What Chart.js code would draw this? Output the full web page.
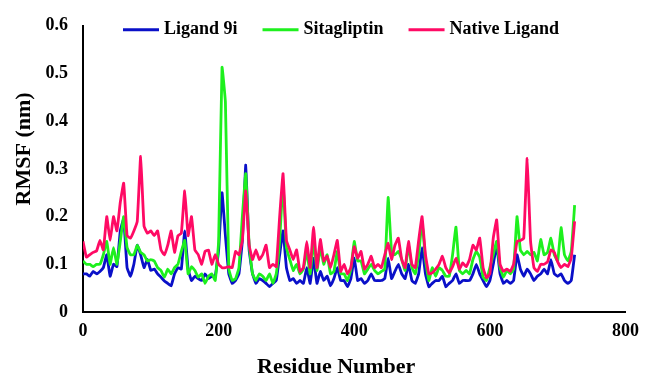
<!DOCTYPE html>
<html>
<head>
<meta charset="utf-8">
<script src="https://cdn.jsdelivr.net/npm/chart.js@4/dist/chart.umd.min.js"></script>
<style>
  html, body { margin: 0; padding: 0; background: #fff; }
  canvas { display: block; }
</style>
</head>
<body>
<canvas id="rmsf" width="648" height="380"></canvas>
<script>
// residue numbers (every 5th residue)
const residues = [
  0, 5, 10, 15, 20, 25, 30, 35, 40, 45,
  50, 55, 60, 65, 70, 75, 80, 85, 90, 95,
  100, 105, 110, 115, 120, 125, 130, 135, 140, 145,
  150, 155, 160, 165, 170, 175, 180, 185, 190, 195,
  200, 205, 210, 215, 220, 225, 230, 235, 240, 245,
  250, 255, 260, 265, 270, 275, 280, 285, 290, 295,
  300, 305, 310, 315, 320, 325, 330, 335, 340, 345,
  350, 355, 360, 365, 370, 375, 380, 385, 390, 395,
  400, 405, 410, 415, 420, 425, 430, 435, 440, 445,
  450, 455, 460, 465, 470, 475, 480, 485, 490, 495,
  500, 505, 510, 515, 520, 525, 530, 535, 540, 545,
  550, 555, 560, 565, 570, 575, 580, 585, 590, 595,
  600, 605, 610, 615, 620, 625, 630, 635, 640, 645,
  650, 655, 660, 665, 670, 675, 680, 685, 690, 695,
  700, 705, 710, 715, 720, 725
];

const ligand9i = [
  0.08, 0.08, 0.075, 0.085, 0.08, 0.085, 0.093, 0.12, 0.075, 0.1,
  0.095, 0.17, 0.195, 0.093, 0.075, 0.1, 0.14, 0.12, 0.093, 0.11,
  0.087, 0.09, 0.08, 0.073, 0.065, 0.06, 0.055, 0.08, 0.093, 0.09,
  0.17, 0.09, 0.066, 0.075, 0.07, 0.066, 0.08, 0.07, 0.075, 0.075,
  0.13, 0.25, 0.16, 0.08, 0.06, 0.066, 0.08, 0.15, 0.308, 0.13,
  0.08, 0.06, 0.07, 0.066, 0.06, 0.053, 0.06, 0.066, 0.12, 0.17,
  0.093, 0.066, 0.07, 0.06, 0.066, 0.06, 0.093, 0.06, 0.113, 0.06,
  0.085, 0.066, 0.075, 0.055, 0.07, 0.093, 0.066, 0.066, 0.053, 0.07,
  0.113, 0.066, 0.07, 0.06, 0.066, 0.08, 0.066, 0.066, 0.066, 0.07,
  0.113, 0.07, 0.085, 0.1, 0.08, 0.07, 0.1, 0.066, 0.06, 0.08,
  0.135, 0.08, 0.053, 0.06, 0.066, 0.066, 0.075, 0.053, 0.06, 0.066,
  0.08, 0.06, 0.066, 0.066, 0.066, 0.08, 0.1, 0.08, 0.066, 0.053,
  0.066, 0.1, 0.14, 0.08, 0.06, 0.066, 0.06, 0.066, 0.12, 0.09,
  0.075, 0.09, 0.08, 0.066, 0.075, 0.08, 0.09, 0.08, 0.11, 0.08,
  0.075, 0.08, 0.066, 0.06, 0.066, 0.12
];

const sitagliptin = [
  0.107, 0.1, 0.1, 0.095, 0.1, 0.1, 0.12, 0.148, 0.1, 0.135,
  0.1, 0.148, 0.2, 0.135, 0.12, 0.12, 0.14, 0.125, 0.12, 0.107,
  0.11, 0.107, 0.093, 0.087, 0.073, 0.09, 0.08, 0.093, 0.1, 0.127,
  0.15, 0.08, 0.095, 0.087, 0.073, 0.08, 0.06, 0.075, 0.08, 0.066,
  0.148, 0.513, 0.44, 0.09, 0.066, 0.07, 0.093, 0.2, 0.29, 0.14,
  0.08, 0.066, 0.08, 0.075, 0.066, 0.08, 0.06, 0.08, 0.15, 0.27,
  0.135, 0.11, 0.087, 0.1, 0.08, 0.09, 0.127, 0.08, 0.148, 0.087,
  0.135, 0.1, 0.12, 0.08, 0.085, 0.127, 0.08, 0.08, 0.066, 0.09,
  0.148, 0.107, 0.107, 0.08, 0.09, 0.1, 0.087, 0.08, 0.085, 0.09,
  0.24, 0.127, 0.12, 0.127, 0.11, 0.087, 0.14, 0.093, 0.08, 0.12,
  0.19, 0.11, 0.066, 0.093, 0.075, 0.093, 0.087, 0.075, 0.075, 0.12,
  0.178, 0.087, 0.08, 0.087, 0.08, 0.11, 0.127, 0.115, 0.073, 0.066,
  0.093, 0.12, 0.148, 0.093, 0.073, 0.087, 0.08, 0.09, 0.2, 0.13,
  0.12, 0.127, 0.12, 0.125, 0.107, 0.152, 0.12, 0.125, 0.155, 0.12,
  0.107, 0.177, 0.12, 0.107, 0.127, 0.224
];

const nativeLigand = [
  0.148, 0.115, 0.12, 0.125, 0.128, 0.15, 0.13, 0.2, 0.15, 0.2,
  0.17, 0.23, 0.27, 0.16, 0.155, 0.17, 0.19, 0.326, 0.18, 0.165,
  0.17, 0.16, 0.17, 0.13, 0.12, 0.14, 0.17, 0.125, 0.16, 0.165,
  0.254, 0.16, 0.2, 0.13, 0.12, 0.1, 0.127, 0.13, 0.1, 0.12,
  0.1, 0.093, 0.093, 0.095, 0.093, 0.127, 0.12, 0.15, 0.254, 0.14,
  0.11, 0.13, 0.11, 0.12, 0.14, 0.093, 0.1, 0.095, 0.2, 0.29,
  0.15, 0.13, 0.11, 0.13, 0.085, 0.093, 0.148, 0.093, 0.178, 0.093,
  0.152, 0.107, 0.117, 0.093, 0.12, 0.15, 0.085, 0.1, 0.08, 0.093,
  0.137, 0.113, 0.127, 0.09, 0.1, 0.117, 0.093, 0.1, 0.093, 0.12,
  0.144, 0.11, 0.14, 0.155, 0.11, 0.093, 0.148, 0.1, 0.093, 0.15,
  0.2, 0.12, 0.08, 0.082, 0.09, 0.1, 0.117, 0.093, 0.082, 0.095,
  0.113, 0.09, 0.103, 0.095, 0.11, 0.14, 0.13, 0.155, 0.093, 0.072,
  0.08, 0.155, 0.193, 0.1, 0.085, 0.09, 0.085, 0.1, 0.148, 0.15,
  0.155, 0.322, 0.148, 0.093, 0.085, 0.1, 0.1, 0.105, 0.13, 0.125,
  0.105, 0.093, 0.1, 0.095, 0.113, 0.19
];

const seriesNames = ['Ligand 9i', 'Sitagliptin', 'Native Ligand'];
const xTitle = 'Residue Number';
const yTitle = 'RMSF (nm)';

const FONT = '"Liberation Serif", "Times New Roman", serif';

const toPoints = (vals) => vals.map((v, i) => ({ x: residues[i], y: v }));

// legend + axis titles drawn by hand, the original has them off-centre
const overlay = {
  id: 'overlay',
  afterDraw(chart) {
    const { ctx, chartArea } = chart;
    ctx.save();
    ctx.fillStyle = '#000';
    ctx.textBaseline = 'middle';
    ctx.textAlign = 'left';

    ctx.font = 'bold 18px ' + FONT;
    let x = chartArea.left + 40;
    const y = chartArea.top + 4;
    chart.data.datasets.forEach(ds => {
      ctx.strokeStyle = ds.borderColor;
      ctx.lineWidth = 3;
      ctx.beginPath();
      ctx.moveTo(x, y);
      ctx.lineTo(x + 36, y);
      ctx.stroke();
      x += 41;
      ctx.fillText(ds.label, x, y);
      x += ctx.measureText(ds.label).width + 25;
    });

    ctx.font = 'bold 22px ' + FONT;
    ctx.textAlign = 'center';
    ctx.fillText(xTitle, (chartArea.left + chartArea.right) / 2 - 18, 367);
    ctx.translate(24, (chartArea.top + chartArea.bottom) / 2 - 20);
    ctx.rotate(-Math.PI / 2);
    ctx.fillText(yTitle, 0, 0);
    ctx.restore();
  }
};

const tickFont = { family: FONT, size: 18, weight: 'bold' };

new Chart(document.getElementById('rmsf').getContext('2d'), {
  type: 'line',
  data: {
    datasets: [
      {
        label: seriesNames[0],
        data: toPoints(ligand9i),
        borderColor: '#0a10c8',
        order: 3,
      },
      {
        label: seriesNames[1],
        data: toPoints(sitagliptin),
        borderColor: '#1ef01e',
        order: 2,
      },
      {
        label: seriesNames[2],
        data: toPoints(nativeLigand),
        borderColor: '#ff0a64',
        order: 1,
      },
    ].map(ds => Object.assign(ds, {
      borderWidth: 2.8,
      pointRadius: 0,
      tension: 0.1,
      fill: false,
    })),
  },
  options: {
    responsive: false,
    animation: false,
    layout: { padding: { top: 20, right: 16, left: 0, bottom: 0 } },
    plugins: {
      legend: { display: false },
      tooltip: { enabled: false },
    },
    scales: {
      x: {
        type: 'linear',
        min: 0,
        max: 800,
        ticks: { stepSize: 200, padding: 9, color: '#000', font: tickFont },
        grid: { display: false, drawTicks: false },
        border: { display: true, color: '#000', width: 2 },
        afterFit(scale) { scale.height = 68; },
      },
      y: {
        min: 0,
        max: 0.6,
        ticks: {
          stepSize: 0.1,
          padding: 15,
          color: '#000',
          font: tickFont,
          callback: (v) => (v === 0 ? '0' : v.toFixed(1)),
        },
        grid: { display: false, drawTicks: false },
        border: { display: true, color: '#000', width: 2 },
        afterFit(scale) { scale.width = 83; },
      },
    },
  },
  plugins: [overlay],
});
</script>
</body>
</html>
